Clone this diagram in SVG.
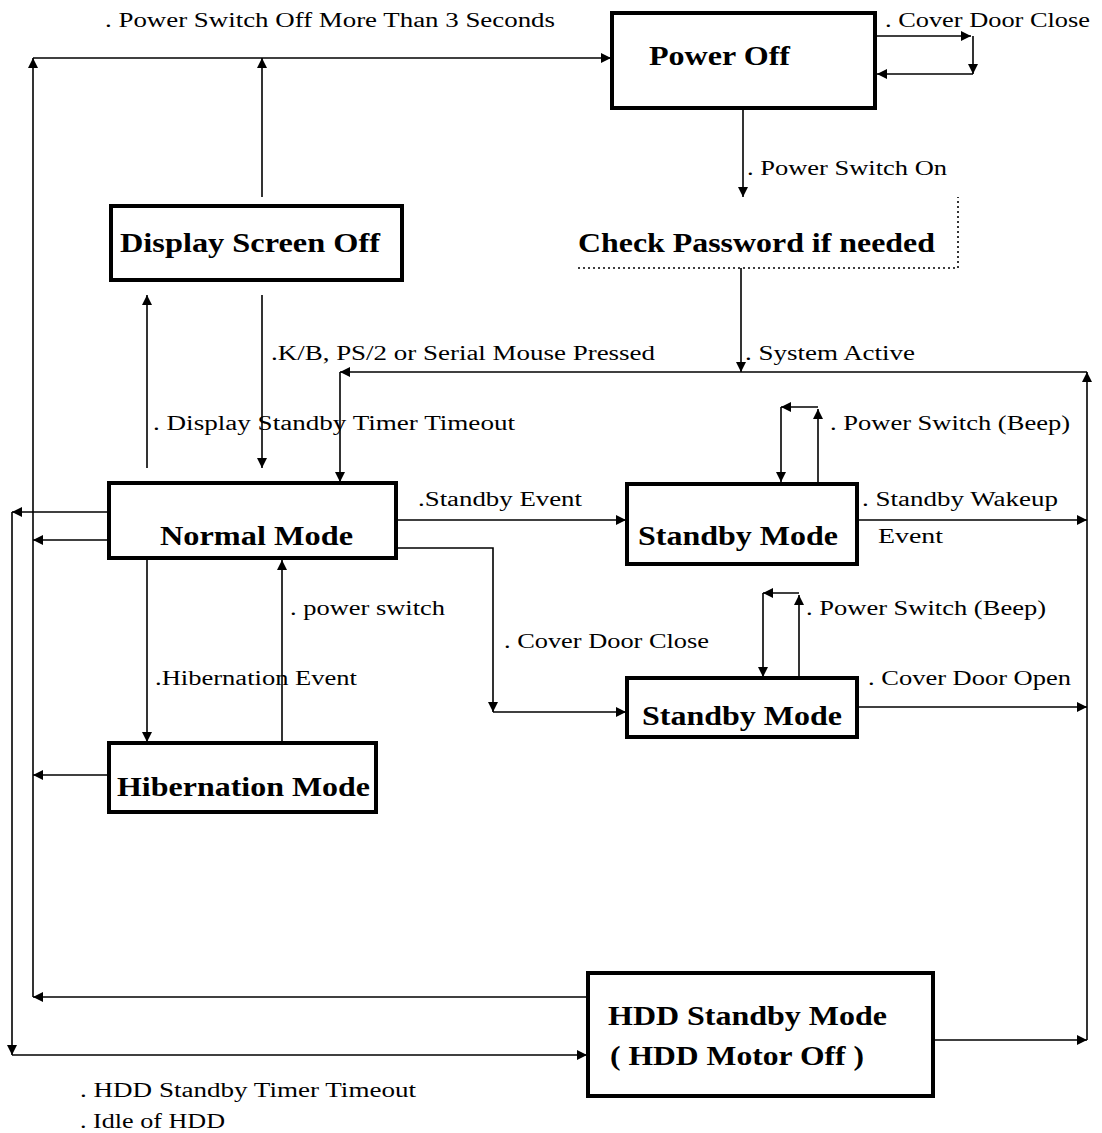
<svg xmlns="http://www.w3.org/2000/svg" width="1102" height="1133" viewBox="0 0 1102 1133">
<style>
.box{fill:#fff;stroke:#000;stroke-width:4}
.nl{font-family:"Liberation Serif","Times New Roman",serif;font-weight:bold;font-size:28px;fill:#000}
.lb{font-family:"Liberation Serif","Times New Roman",serif;font-size:20px;fill:#000}
.c{fill:none;stroke:#000;stroke-width:1.6;marker-end:url(#ah)}
.dot{fill:none;stroke:#000;stroke-width:1.6;stroke-dasharray:2 3}
</style>
<defs>
<marker id="ah" viewBox="0 0 10 10" refX="10" refY="5" markerWidth="10" markerHeight="10" markerUnits="userSpaceOnUse" orient="auto">
<path d="M0,0 L10,5 L0,10 z" fill="#000"/>
</marker>
</defs>
<rect width="1102" height="1133" fill="#fff"/>
<g id="connectors">
<path class="c" d="M33,997 V58"/>
<path class="c" d="M33,58 H611"/>
<path class="c" d="M262,197 V58"/>
<path class="c" d="M262,295 V468"/>
<path class="c" d="M147,468 V295"/>
<path class="c" d="M743,109 V197"/>
<path class="c" d="M741,268 V372"/>
<path class="c" d="M1087,1040 V372"/>
<path class="c" d="M1087,372 H340"/>
<path class="c" d="M340,372 V482"/>
<path class="c" d="M108,512 H12"/>
<path class="c" d="M108,540 H33"/>
<path class="c" d="M12,512 V1055"/>
<path class="c" d="M12,1055 H587"/>
<path class="c" d="M108,775 H33"/>
<path class="c" d="M587,997 H33"/>
<path class="c" d="M397,520 H626"/>
<path class="c" d="M857,520 H1087"/>
<path class="c" d="M818,482 V409"/>
<path class="c" d="M818,407 H781"/>
<path class="c" d="M781,407 V482"/>
<path class="c" d="M397,548 H493 V712"/>
<path class="c" d="M493,712 H626"/>
<path class="c" d="M799,677 V595"/>
<path class="c" d="M799,593 H763"/>
<path class="c" d="M763,593 V677"/>
<path class="c" d="M858,707 H1087"/>
<path class="c" d="M147,560 V742"/>
<path class="c" d="M282,742 V560"/>
<path class="c" d="M934,1040 H1087"/>
<path class="c" d="M876,36 H971"/>
<path class="c" d="M973,36 V74"/>
<path class="c" d="M973,74 H877"/>
</g>
<g id="power-off">
<rect class="box" x="612" y="13" width="263" height="95"/>
<text class="nl" x="649" y="65" textLength="141" lengthAdjust="spacingAndGlyphs">Power Off</text>
</g>
<g id="check-password">
<path class="dot" d="M578,268 H958 V197"/>
<text class="nl" x="578" y="252" textLength="357" lengthAdjust="spacingAndGlyphs">Check Password if needed</text>
</g>
<g id="display-screen-off">
<rect class="box" x="111" y="206" width="291" height="74"/>
<text class="nl" x="120" y="252" textLength="260" lengthAdjust="spacingAndGlyphs">Display Screen Off</text>
</g>
<g id="normal-mode">
<rect class="box" x="109" y="483" width="287" height="75"/>
<text class="nl" x="160" y="545" textLength="193" lengthAdjust="spacingAndGlyphs">Normal Mode</text>
</g>
<g id="standby-mode-1">
<rect class="box" x="627" y="484" width="230" height="80"/>
<text class="nl" x="638" y="545" textLength="200" lengthAdjust="spacingAndGlyphs">Standby Mode</text>
</g>
<g id="standby-mode-2">
<rect class="box" x="627" y="678" width="230" height="59"/>
<text class="nl" x="642" y="725" textLength="200" lengthAdjust="spacingAndGlyphs">Standby Mode</text>
</g>
<g id="hibernation-mode">
<rect class="box" x="109" y="743" width="267" height="69"/>
<text class="nl" x="117" y="796" textLength="253" lengthAdjust="spacingAndGlyphs">Hibernation Mode</text>
</g>
<g id="hdd-standby-mode">
<rect class="box" x="588" y="973" width="345" height="123"/>
<text class="nl" x="608" y="1025" textLength="279" lengthAdjust="spacingAndGlyphs">HDD Standby Mode</text>
<text class="nl" x="610" y="1065" textLength="254" lengthAdjust="spacingAndGlyphs">( HDD Motor Off )</text>
</g>
<g id="labels">
<text class="lb" x="105" y="27" textLength="450" lengthAdjust="spacingAndGlyphs">. Power Switch Off More Than 3 Seconds</text>
<text class="lb" x="885" y="27" textLength="205" lengthAdjust="spacingAndGlyphs">. Cover Door Close</text>
<text class="lb" x="747" y="175" textLength="200" lengthAdjust="spacingAndGlyphs">. Power Switch On</text>
<text class="lb" x="271" y="360" textLength="384" lengthAdjust="spacingAndGlyphs">.K/B, PS/2 or Serial Mouse Pressed</text>
<text class="lb" x="745" y="360" textLength="170" lengthAdjust="spacingAndGlyphs">. System Active</text>
<text class="lb" x="153" y="430" textLength="362" lengthAdjust="spacingAndGlyphs">. Display Standby Timer Timeout</text>
<text class="lb" x="830" y="430" textLength="240" lengthAdjust="spacingAndGlyphs">. Power Switch (Beep)</text>
<text class="lb" x="418" y="506" textLength="164" lengthAdjust="spacingAndGlyphs">.Standby Event</text>
<text class="lb" x="862" y="506" textLength="196" lengthAdjust="spacingAndGlyphs">. Standby Wakeup</text>
<text class="lb" x="878" y="543" textLength="65" lengthAdjust="spacingAndGlyphs">Event</text>
<text class="lb" x="290" y="615" textLength="155" lengthAdjust="spacingAndGlyphs">. power switch</text>
<text class="lb" x="806" y="615" textLength="240" lengthAdjust="spacingAndGlyphs">. Power Switch (Beep)</text>
<text class="lb" x="504" y="648" textLength="205" lengthAdjust="spacingAndGlyphs">. Cover Door Close</text>
<text class="lb" x="155" y="685" textLength="202" lengthAdjust="spacingAndGlyphs">.Hibernation Event</text>
<text class="lb" x="868" y="685" textLength="203" lengthAdjust="spacingAndGlyphs">. Cover Door Open</text>
<text class="lb" x="80" y="1097" textLength="336" lengthAdjust="spacingAndGlyphs">. HDD Standby Timer Timeout</text>
<text class="lb" x="80" y="1128" textLength="145" lengthAdjust="spacingAndGlyphs">. Idle of HDD</text>
</g>
</svg>
